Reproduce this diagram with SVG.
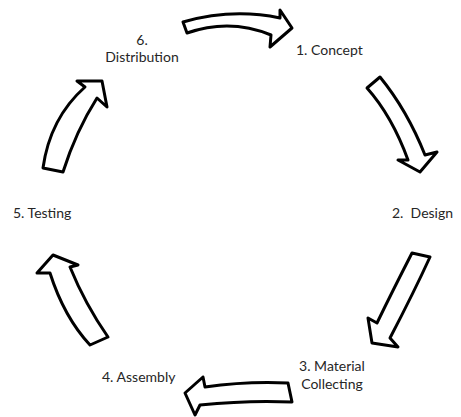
<svg xmlns="http://www.w3.org/2000/svg" width="461" height="417" viewBox="0 0 461 417">
<style>
.lbl{font-family:Lato,"Open Sans","Liberation Sans",sans-serif;font-size:14px;fill:#262626}
.arr{fill:#fff;stroke:#000;stroke-width:3;stroke-linejoin:round}
</style>
<rect width="461" height="417" fill="#fff"/>
<g id="connectors">
<path class="arr" d="M183,22 Q232,8 280,18 L280,10 L292,28 L270,47 L271,35 Q230,18 187,33 Z"/>
<path class="arr" d="M380,77 Q407,110 425,155 L437,152 L420,172 L398,160 L408,160 Q392,116 367,88 Z"/>
<path class="arr" d="M430,257 Q414,292 390,338 L398,347 L372,343 L368,318 L377,323 Q392,292 412,253 Z"/>
<path class="arr" d="M288,383 Q247,381 205,387 L203,377 L185,393 L195,415 L200,405 Q248,400 292,402 Z"/>
<path class="arr" d="M90,345 Q64,317 50,273 L37,273 L53,255 L78,265 L70,267 Q85,304 108,337 Z"/>
<path class="arr" d="M43,168 Q50,118 85,87 L77,81 L102,81 L107,107 L97,98 Q76,131 63,172 Z"/>
</g>
<g id="node-1"><text class="lbl" x="296" y="55">1. Concept</text></g>
<g id="node-2"><text class="lbl" x="392" y="218" xml:space="preserve">2.  Design</text></g>
<g id="node-3"><text class="lbl" x="332" y="371" text-anchor="middle">3. Material</text><text class="lbl" x="332" y="389" text-anchor="middle">Collecting</text></g>
<g id="node-4"><text class="lbl" x="102" y="382">4. Assembly</text></g>
<g id="node-5"><text class="lbl" x="13" y="218">5. Testing</text></g>
<g id="node-6"><text class="lbl" x="142" y="45" text-anchor="middle">6.</text><text class="lbl" x="142" y="62" text-anchor="middle">Distribution</text></g>
</svg>
